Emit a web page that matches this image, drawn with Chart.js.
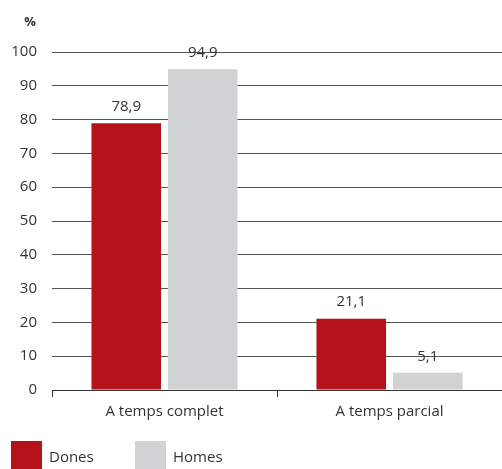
<!DOCTYPE html>
<html>
<head>
  <title>Temps complet / parcial</title>
  <script src="https://cdn.jsdelivr.net/npm/chart.js"></script>
  <style>
    body { margin: 0; background: #fff; font-family: "Open Sans", sans-serif; }
    #wrap { position: relative; width: 502px; height: 469px; }
    .leg { position: absolute; top: 441px; height: 28px; font-size: 15px; color: #333; line-height: 30px; }
    .leg span { display: inline-block; width: 31px; height: 28px; vertical-align: top; margin-right: 7px; }
  </style>
</head>
<body>
  <div id="wrap">
    <canvas id="myChart" width="502" height="469"></canvas>
    <div class="leg" style="left:11px"><span style="background:#b5121b"></span>Dones</div>
    <div class="leg" style="left:135px"><span style="background:#d1d2d4"></span>Homes</div>
  </div>

  <script>
    const categories = ['A temps complet', 'A temps parcial'];
    const dones = [78.9, 21.1];
    const homes = [94.9, 5.1];
    const yTicks = [0, 10, 20, 30, 40, 50, 60, 70, 80, 90, 100];

    // value labels above each bar, written with a decimal comma
    const valueLabels = {
      id: 'valueLabels',
      afterDatasetsDraw(chart) {
        const ctx = chart.ctx;
        ctx.save();
        ctx.font = '15px "Open Sans", sans-serif';
        ctx.fillStyle = '#333';
        ctx.textAlign = 'center';
        ctx.textBaseline = 'bottom';
        chart.data.datasets.forEach((ds, i) => {
          chart.getDatasetMeta(i).data.forEach((bar, j) => {
            ctx.fillText(ds.data[j].toFixed(1).replace('.', ','), bar.x, bar.y - 9);
          });
        });
        // unit label above the y axis
        ctx.font = 'bold 13px "Open Sans", sans-serif';
        ctx.textAlign = 'center';
        ctx.textBaseline = 'middle';
        ctx.fillText('%', 30, 22);
        ctx.restore();
      }
    };

    const ctx = document.getElementById('myChart').getContext('2d');
    const myChart = new Chart(ctx, {
      type: 'bar',
      data: {
        labels: categories,
        datasets: [
          { label: 'Dones', data: dones, backgroundColor: '#b5121b' },
          { label: 'Homes', data: homes, backgroundColor: '#d1d2d4' }
        ]
      },
      options: {
        responsive: false,
        animation: false,
        categoryPercentage: 0.68,
        barPercentage: 0.91,
        layout: { padding: { top: 52, bottom: 42, left: 0, right: 0 } },
        plugins: { legend: { display: false }, tooltip: { enabled: false } },
        scales: {
          x: {
            grid: { drawOnChartArea: false, tickLength: 7, color: '#333' },
            border: { color: '#333', width: 1 },
            ticks: { color: '#333', font: { size: 15, family: '"Open Sans", sans-serif' }, padding: 6 }
          },
          y: {
            min: 0,
            max: 100,
            afterBuildTicks: scale => { scale.ticks = yTicks.map(v => ({ value: v })); },
            afterFit: scale => { scale.width = 52; },
            grid: { color: '#555', drawTicks: false },
            border: { display: false },
            ticks: { color: '#333', font: { size: 15, family: '"Open Sans", sans-serif' }, padding: 15 }
          }
        }
      },
      plugins: [valueLabels]
    });
  </script>
</body>
</html>
